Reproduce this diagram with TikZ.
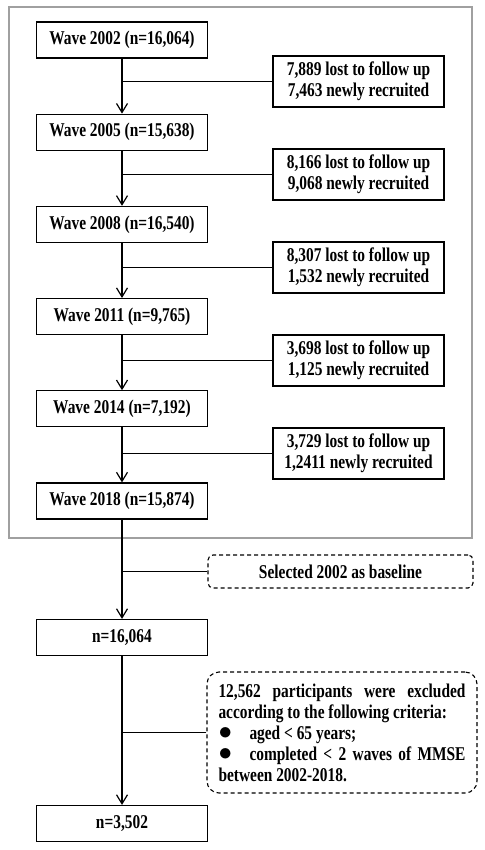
\documentclass[tikz,border=0pt]{standalone}
\usepackage{fontspec}
\setmainfont{Liberation Serif}[FakeStretch=0.79]
\usepackage{xcolor}
\definecolor{framegray}{RGB}{160,160,160}
\usepackage{tikz}
\usetikzlibrary{arrows.meta,positioning,calc}
\tikzset{
  fc_wave/.style={rectangle,
    draw=black,fill=white,line width=1.2pt,
    minimum width=171pt,minimum height=36pt,
    inner sep=0pt,
    font=\fontsize{19.5}{21}\selectfont\bfseries},
  fc_loss/.style={rectangle,
    draw=black,fill=white,line width=1.2pt,
    minimum width=171pt,minimum height=51pt,
    align=center,inner sep=0pt,
    font=\fontsize{19.5}{21}\selectfont\bfseries},
  fc_note/.style={rectangle,rounded corners=5pt,
    draw=black,line width=1.1pt,dash pattern=on 4pt off 3pt,
    minimum width=265pt,minimum height=33pt,
    inner sep=0pt,
    font=\fontsize{19.5}{21}\selectfont\bfseries},
  fc_excl/.style={rectangle,rounded corners=12pt,
    draw=black,line width=1.1pt,dash pattern=on 4pt off 3pt,
    text width=247pt,align=justify,
    minimum height=121pt,inner xsep=11.5pt,inner ysep=0pt,
    font=\fontsize{19.5}{21}\selectfont\bfseries},
  arr/.style={-{Straight Barb[length=9pt,width=11pt]},line width=1.2pt,draw=black},
  branch/.style={line width=1.2pt,draw=black},
}
\newcommand{\crit}{\makebox[31pt][l]{\raisebox{0pt}{\scalebox{1.3}{$\bullet$}}}}

\begin{document}
\begin{tikzpicture}[x=1pt,y=-1pt]
  \useasboundingbox (0,0) rectangle (484,850);
  % waves of the survey
  \draw[framegray,line width=1.5pt] (9,7) rectangle (472,538);
  \node (w2002) [fc_wave] at (122,40) {Wave 2002 (n=16,064)};
  \node (w2005) [fc_wave] at (122,132.2) {Wave 2005 (n=15,638)};
  \node (w2008) [fc_wave] at (122,224.4) {Wave 2008 (n=16,540)};
  \node (w2011) [fc_wave] at (122,316.6) {Wave 2011 (n=9,765)};
  \node (w2014) [fc_wave] at (122,408.8) {Wave 2014 (n=7,192)};
  \node (w2018) [fc_wave] at (122,501) {Wave 2018 (n=15,874)};
  \node (loss1) [fc_loss] at (358.5,81.5) {7,889 lost to follow up\\7,463 newly recruited};
  \node (loss2) [fc_loss] at (358.5,174.5) {8,166 lost to follow up\\9,068 newly recruited};
  \node (loss3) [fc_loss] at (358.5,267.5) {8,307 lost to follow up\\1,532 newly recruited};
  \node (loss4) [fc_loss] at (358.5,360.5) {3,698 lost to follow up\\1,125 newly recruited};
  \node (loss5) [fc_loss] at (358.5,453.5) {3,729 lost to follow up\\1,2411 newly recruited};
  % selection of the sample
  \node (base) [fc_note] at (340.5,571.5) {Selected 2002 as baseline};
  \node (n1) [fc_wave] at (122,637.5) {n=16,064};
  \node (excl) [fc_excl] at (342,732.5) {\hyphenpenalty=10000\relax
    12,562 participants were excluded according to the following criteria:\par
    \noindent\crit aged < 65 years;\par
    \hangindent=31pt\hangafter=1\noindent\crit completed < 2 waves of MMSE between 2002-2018.};
  \node (n2) [fc_wave] at (122,823.5) {n=3,502};
  \draw[arr] (w2002) -- (w2005);
  \draw[arr] (w2005) -- (w2008);
  \draw[arr] (w2008) -- (w2011);
  \draw[arr] (w2011) -- (w2014);
  \draw[arr] (w2014) -- (w2018);
  \draw[arr] (w2018) -- (n1);
  \draw[arr] (n1) -- (n2);
  \draw[branch] (loss1.west) -- (loss1.west -| w2002);
  \draw[branch] (loss2.west) -- (loss2.west -| w2005);
  \draw[branch] (loss3.west) -- (loss3.west -| w2008);
  \draw[branch] (loss4.west) -- (loss4.west -| w2011);
  \draw[branch] (loss5.west) -- (loss5.west -| w2014);
  \draw[branch] (base.west) -- (base.west -| w2018);
  \draw[branch] (excl.west) -- (excl.west -| n1);
\end{tikzpicture}
\end{document}
